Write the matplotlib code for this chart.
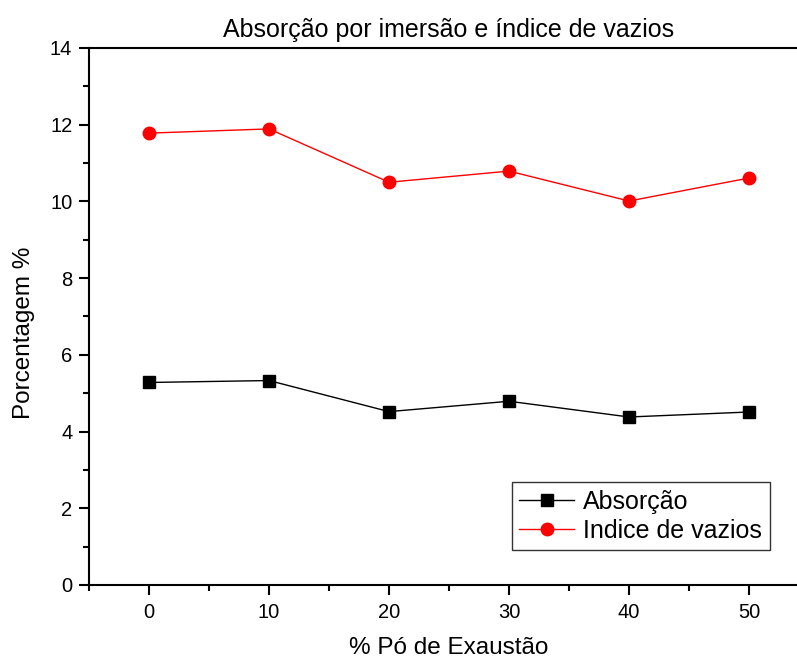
import matplotlib.pyplot as plt
from matplotlib.ticker import MultipleLocator

plt.rcParams['font.family'] = ['Liberation Sans', 'DejaVu Sans']

# data
po_exaustao = [0, 10, 20, 30, 40, 50]
absorcao = [5.28, 5.33, 4.52, 4.79, 4.38, 4.51]
indice_vazios = [11.78, 11.89, 10.50, 10.79, 10.01, 10.61]

fig = plt.figure(figsize=(7.97, 6.59), dpi=100)
# axis runs a bit past the right edge of the picture, like the original
ax = fig.add_axes([0.1117, 0.1123, 0.9034, 0.8149])

ax.plot(po_exaustao, absorcao, color='black', lw=1, marker='s', ms=8,
        label='Absorção')
ax.plot(po_exaustao, indice_vazios, color='red', lw=1, marker='o', ms=9,
        label='Indice de vazios')

ax.set_xlim(-5, 55)
ax.set_ylim(0, 14)
ax.xaxis.set_major_locator(MultipleLocator(10))
ax.xaxis.set_minor_locator(MultipleLocator(5))
ax.yaxis.set_major_locator(MultipleLocator(2))
ax.yaxis.set_minor_locator(MultipleLocator(1))
ax.tick_params(which='both', direction='out', width=1.5, labelsize=14.5)
ax.tick_params(which='major', length=7, pad=5)
ax.tick_params(which='minor', length=4)
ax.tick_params(axis='x', pad=6)
for s in ['left', 'bottom', 'top']:
    ax.spines[s].set_linewidth(1.5)
ax.spines['right'].set_visible(False)

ax.set_title('Absorção por imersão e índice de vazios', fontsize=18, pad=8)
ax.set_xlabel('% Pó de Exaustão', fontsize=17.5, labelpad=11)
ax.set_ylabel('Porcentagem %', fontsize=17.5)
ax.yaxis.set_label_coords(-0.075, 0.47)

leg = ax.legend(loc='lower left', bbox_to_anchor=(512 / 797, 1 - 550 / 659),
                bbox_transform=fig.transFigure, fontsize=18, frameon=True,
                fancybox=False, edgecolor='black', handlelength=2.2,
                borderpad=0.3, labelspacing=0.2, handletextpad=0.35,
                borderaxespad=0)
leg.get_frame().set_linewidth(1)

fig.savefig('out.png', dpi=100)
